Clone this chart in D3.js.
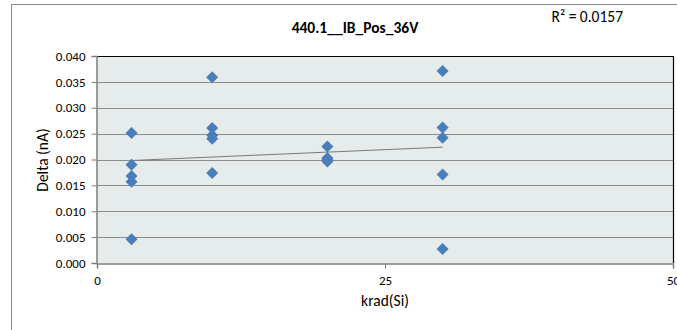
<!DOCTYPE html>
<html><head><meta charset="utf-8">
<script src="https://cdn.jsdelivr.net/npm/d3@7"></script>
<style>
html,body{margin:0;padding:0;background:#fff;}
svg{display:block;}
text{font-family:Carlito,Lato,"Liberation Sans",sans-serif;}
</style></head>
<body>
<svg id="c" width="677" height="330"></svg>
<script>
const title = "440.1__IB_Pos_36V";
const r2Label = "R² = 0.0157";
const xLabel = "krad(Si)";
const yLabel = "Delta (nA)";
const xTicks = [0, 25, 50];
const yTicks = [0.000, 0.005, 0.010, 0.015, 0.020, 0.025, 0.030, 0.035, 0.040];
const doseX = [3,3,3,3,3, 10,10,10,10,10, 20,20,20,20, 30,30,30,30,30];
const deltaY = [0.0251,0.0190,0.0168,0.0157,0.0046,
                0.0359,0.0261,0.0247,0.0240,0.0174,
                0.0225,0.0203,0.0200,0.0196,
                0.0371,0.0262,0.0242,0.0171,0.0027];

const svg = d3.select("#c");
const L = 97, R = 673, T = 56, B = 263;
const x = d3.scaleLinear().domain([0,50]).range([L,R]);
const y = d3.scaleLinear().domain([0,0.04]).range([B,T]);
const FONT = "Carlito,Lato,'Liberation Sans',sans-serif";

// outer chart frame
svg.append("rect").attr("x",11.5).attr("y",4.5).attr("width",700).attr("height",400)
  .attr("fill","#fff").attr("stroke","#8a8a8a").attr("stroke-width",1);

// plot area
svg.append("rect").attr("x",L).attr("y",T).attr("width",R-L).attr("height",B-T)
  .attr("fill","#e6ebeb");

// gridlines
svg.append("g").selectAll("line").data(yTicks.filter(d=>d>0 && d<0.04)).join("line")
  .attr("x1",L).attr("x2",R).attr("y1",d=>Math.round(y(d))+0.5).attr("y2",d=>Math.round(y(d))+0.5)
  .attr("stroke","#8c8c8c").attr("stroke-width",1);

// plot border top/right
svg.append("path").attr("d",`M${L},${T+0.5}H${R+0.5}V${B}`).attr("fill","none")
  .attr("stroke","#000").attr("stroke-width",1.2);

// axes
const yAxis = d3.axisLeft(y).tickValues(yTicks).tickFormat(d3.format(".3f")).tickSize(5).tickPadding(6);
const gy = svg.append("g").attr("transform",`translate(${L-0.5},0)`).call(yAxis);
const xAxis = d3.axisBottom(x).tickValues(xTicks).tickFormat(d3.format("d")).tickSize(5).tickPadding(7);
const gx = svg.append("g").attr("transform",`translate(0,${B+0.5})`).call(xAxis);
[gy,gx].forEach(g=>{
  g.select(".domain").attr("stroke","#7f7f7f").attr("stroke-width",1.5);
  g.selectAll(".tick line").attr("stroke","#7f7f7f");
  g.selectAll("text").attr("fill","#000").style("font-size","13px").style("font-family",FONT);
});

// trend line (least squares from data)
const mx = d3.mean(doseX), my = d3.mean(deltaY);
let sxy=0,sxx=0;
doseX.forEach((xv,i)=>{sxy+=(xv-mx)*(deltaY[i]-my); sxx+=(xv-mx)*(xv-mx);});
const slope = sxy/sxx, icpt = my - slope*mx;
const xmin = d3.min(doseX), xmax = d3.max(doseX);
svg.append("line").attr("x1",x(xmin)).attr("y1",y(icpt+slope*xmin))
  .attr("x2",x(xmax)).attr("y2",y(icpt+slope*xmax))
  .attr("stroke","#7a7a7a").attr("stroke-width",1);

// points
const sym = d3.symbol().type(d3.symbolDiamond2).size(92);
svg.append("g").selectAll("path").data(doseX.map((xv,i)=>[xv,deltaY[i]])).join("path")
  .attr("d",sym).attr("transform",d=>`translate(${x(d[0])},${y(d[1])})`)
  .attr("fill","#4a7ebb");

// texts
svg.append("text").attr("x",355).attr("y",32.5).attr("text-anchor","middle")
  .style("font-size","15.5px").style("font-weight","bold").text(title);
svg.append("text").attr("x",551.5).attr("y",22)
  .style("font-size","15.5px").text(r2Label);
svg.append("text").attr("x",385).attr("y",306).attr("text-anchor","middle")
  .style("font-size","15.5px").text(xLabel);
svg.append("text").attr("transform","translate(47.5,160) rotate(-90)").attr("text-anchor","middle")
  .style("font-size","15.5px").text(yLabel);
</script>
</body></html>
